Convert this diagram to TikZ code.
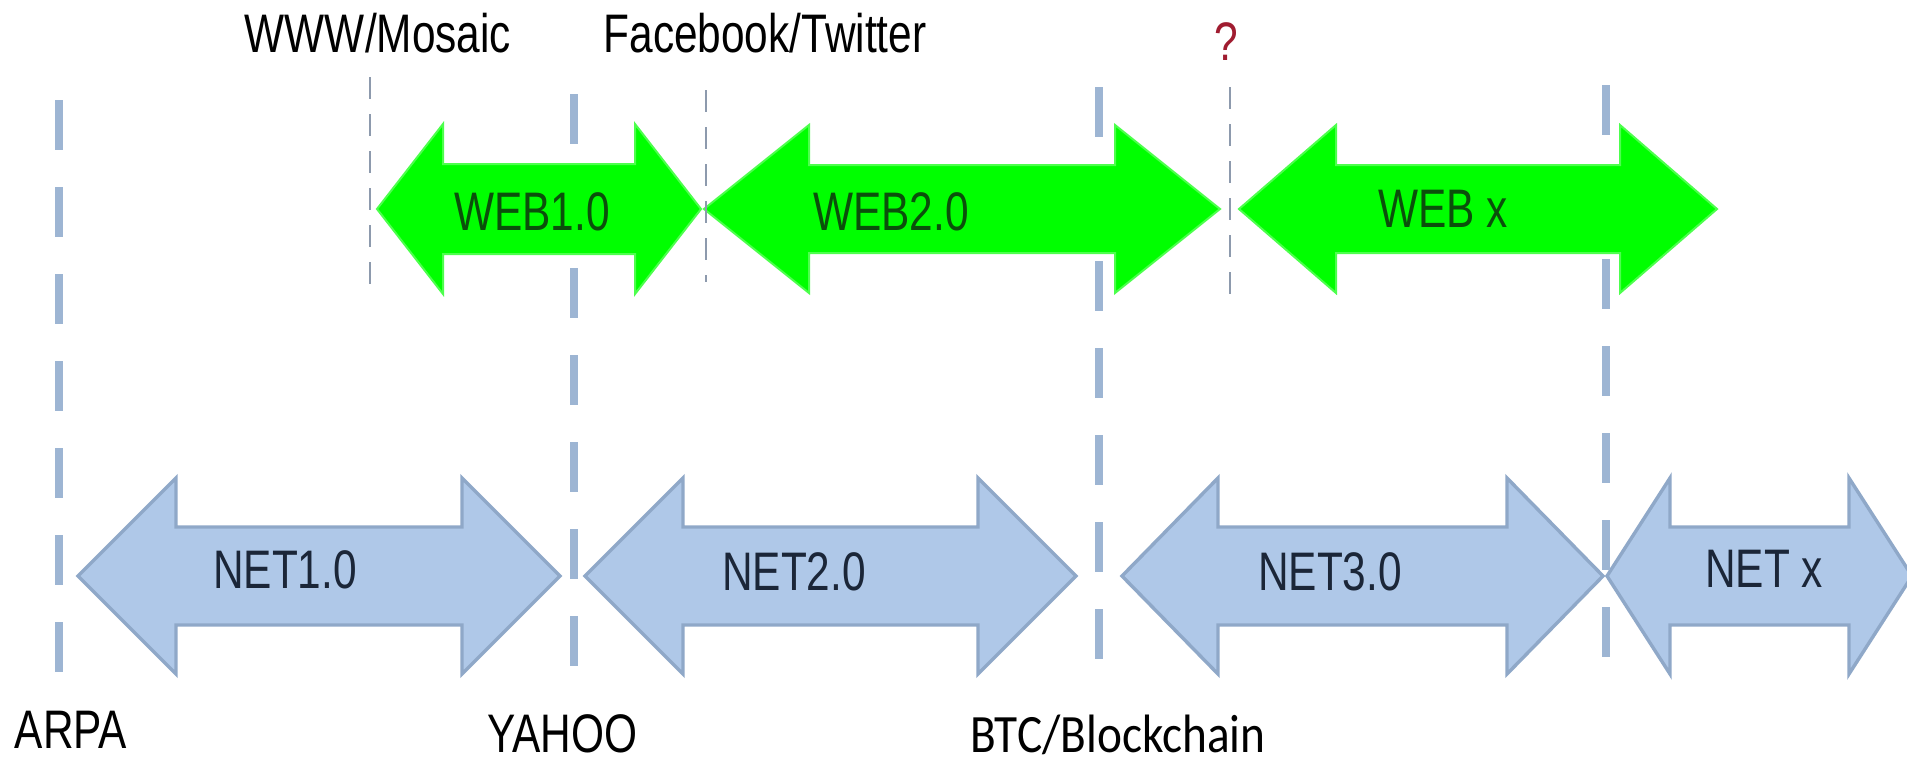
\documentclass[tikz,border=0pt]{standalone}
\usepackage{fontspec}
\setmainfont{Liberation Sans}
\newfontfamily\carl{Carlito}
\usepackage{graphicx}
\definecolor{webgreen}{HTML}{00FF00}
\definecolor{webedge}{HTML}{4DFF4D}
\definecolor{webtext}{HTML}{0B4F0B}
\definecolor{netfill}{HTML}{AFC8E8}
\definecolor{netedge}{HTML}{8FA8C8}
\definecolor{nettext}{HTML}{1B2638}
\definecolor{bluedashc}{HTML}{9DB5D3}
\definecolor{graydashc}{HTML}{8D9AAD}
\definecolor{qred}{HTML}{A01C30}
% #1 style, #2 left tip x, #3 right tip x, #4 centre y, #5 head length, #6 head half-height, #7 shaft half-height
\newcommand{\dblarrow}[7]{\path[#1] (#2,#4) -- ({#2+#5},{#4-#6}) -- ({#2+#5},{#4-#7}) -- ({#3-#5},{#4-#7}) -- ({#3-#5},{#4-#6}) -- (#3,#4) -- ({#3-#5},{#4+#6}) -- ({#3-#5},{#4+#7}) -- ({#2+#5},{#4+#7}) -- ({#2+#5},{#4+#6}) -- cycle;}
\newcommand{\lbl}[1]{\scalebox{1}[1.28]{#1}}
\tikzset{
  webarrow/.style={fill=webgreen, draw=webedge, line width=1pt, line join=miter},
  netarrow/.style={fill=netfill, draw=netedge, line width=1.7pt, line join=miter},
  bluedash/.style={draw=bluedashc, line width=3.8pt, dash pattern=on 25pt off 18.5pt},
  graydash/.style={draw=graydashc, line width=1.4pt, dash pattern=on 11pt off 7.5pt},
  txt/.style={inner sep=0pt, anchor=base, font=\fontsize{21.2pt}{25pt}\selectfont},
  toplbl/.style={txt, text=black},
  weblbl/.style={txt, text=webtext},
  netlbl/.style={txt, text=nettext},
}
\begin{document}
\begin{tikzpicture}[x=0.5pt, y=-0.5pt]
\useasboundingbox (0,0) rectangle (1907,762);
\fill[white] (0,0) rectangle (1907,762);
\clip (0,0) rectangle (1907,762);

% blue NET arrows
\dblarrow{netarrow}{78}{560}{576}{98}{98}{49}
\dblarrow{netarrow}{585}{1076}{576}{98}{98}{49}
\dblarrow{netarrow}{1122}{1603}{576}{96}{98}{49}
\dblarrow{netarrow}{1607}{1912}{576}{63}{98}{49}

% thick blue dashed era lines
\coordinate (arpaT) at (59,100);  \coordinate (arpaB) at (59,675);
\coordinate (yahooT) at (574,94); \coordinate (yahooB) at (574,667);
\coordinate (btcT) at (1099,87);  \coordinate (btcB) at (1099,660);
\coordinate (netxT) at (1606,85); \coordinate (netxB) at (1606,662);
\draw[bluedash] (arpaT) -- (arpaB);
\draw[bluedash] (yahooT) -- (yahooB);
\draw[bluedash] (btcT) -- (btcB);
\draw[bluedash] (netxT) -- (netxB);

% green WEB arrows
\dblarrow{webarrow}{377}{701}{209}{66}{85}{45}
\dblarrow{webarrow}{704}{1220}{209}{105}{84}{44}
\dblarrow{webarrow}{1239}{1717}{209}{97}{84}{44}

% thin gray dashed lines
\coordinate (mosT) at (370,77);  \coordinate (mosB) at (370,293);
\coordinate (fbT) at (706,90);   \coordinate (fbB) at (706,282);
\coordinate (qT) at (1230,87);   \coordinate (qB) at (1230,300);
\draw[graydash] (mosT) -- (mosB);
\draw[graydash] (fbT) -- (fbB);
\draw[graydash] (qT) -- (qB);

% labels
\node[weblbl] (web1) at (532,230) {\lbl{WEB1.0}};
\node[weblbl] (web2) at (891,230) {\lbl{WEB2.0}};
\node[weblbl] (webx) at (1443,227) {\lbl{WEB x}};
\node[netlbl] (net1) at (285,588) {\lbl{NET1.0}};
\node[netlbl] (net2) at (794,590) {\lbl{NET2.0}};
\node[netlbl] (net3) at (1330,590) {\lbl{NET3.0}};
\node[netlbl] (netx) at (1764,587) {\lbl{NET x}};

\node[toplbl] (mosaic) at (378,52) {\lbl{WWW/Mosaic}};
\node[toplbl] (fb) at (765,52) {\lbl{Facebook/Twitter}};
\node[txt, text=qred] (q) at (1226,60) {\lbl{?}};
\node[toplbl] (arpa) at (71,748) {\lbl{ARPA}};
\node[toplbl] (yahoo) at (562,752) {\lbl{YAHOO}};
\node[inner sep=0pt, anchor=base, text=black, font=\carl\fontsize{27pt}{30pt}\selectfont] (btc) at (1118,752) {\scalebox{0.876}[1]{BTC/Blockchain}};
\end{tikzpicture}
\end{document}
